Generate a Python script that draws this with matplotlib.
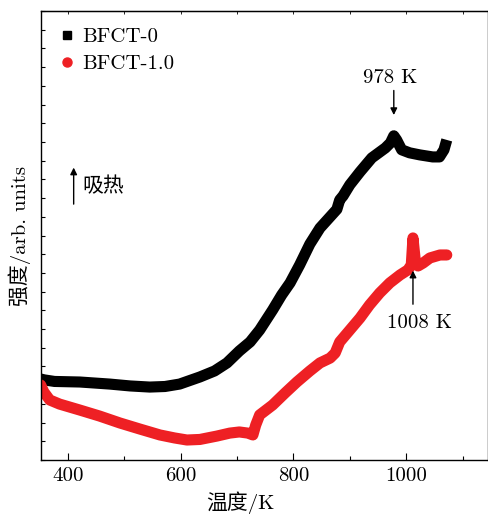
import matplotlib
matplotlib.use('Agg')
import matplotlib.pyplot as plt
from matplotlib.lines import Line2D
from matplotlib.ticker import MultipleLocator, NullFormatter

plt.rcParams['font.family'] = ['cmr10', 'Noto Sans CJK SC', 'DejaVu Sans']
plt.rcParams['axes.unicode_minus'] = False
plt.rcParams['font.size'] = 15

# BFCT-0 曲线 (温度 K, 强度 arb.)
t0 = [351.5, 358.6, 376, 421, 474, 510, 545, 572, 598, 634, 660, 682, 704, 723,
      740, 763, 779, 794, 811, 829, 847, 865, 877, 882, 888, 900, 918, 939, 963,
      972, 978, 983, 992, 1006, 1024, 1047, 1059, 1067, 1072]
y0 = [4.33, 4.28, 4.20, 4.17, 4.06, 3.96, 3.90, 3.93, 4.06, 4.44, 4.76, 5.19, 5.83, 6.31,
      6.95, 8.02, 8.82, 9.47, 10.43, 11.54, 12.40, 13.0, 13.40, 13.90, 14.12, 14.71, 15.40, 16.15, 16.68,
      16.95, 17.33, 17.11, 16.58, 16.42, 16.31, 16.20, 16.20, 16.58, 17.11]

# BFCT-1.0 曲线
t1 = [351.5, 357, 367.5, 385, 421, 456, 492, 527, 563, 589, 611, 634, 664, 687, 704,
      719, 728, 733, 740, 763, 785, 806, 829, 847, 865, 874, 882, 900, 918, 935,
      953, 971, 989, 1003, 1009, 1012, 1016, 1021, 1030, 1042, 1060, 1072]
y1 = [4.01, 3.64, 3.21, 2.99, 2.67, 2.35, 1.98, 1.66, 1.34, 1.18, 1.07, 1.10, 1.28, 1.44, 1.50,
      1.44, 1.34, 1.87, 2.41, 2.94, 3.58, 4.17, 4.76, 5.19, 5.45, 5.72, 6.31, 6.95, 7.59, 8.29,
      8.93, 9.47, 9.89, 10.16, 10.43, 11.87, 10.70, 10.37, 10.53, 10.80, 10.96, 10.96]

labels = ['BFCT-0', 'BFCT-1.0']
xticks = [400, 600, 800, 1000]

fig = plt.figure(figsize=(4.89, 5.14), dpi=100)
ax = fig.add_axes([0.0838, 0.105, 0.914, 0.8736])

ax.plot(t0, y0, color='black', lw=8, solid_capstyle='butt', solid_joinstyle='round')
ax.plot(t1, y1, color='#ee2024', lw=8, solid_capstyle='round', solid_joinstyle='round')

ax.set_xlim(352, 1145)
ax.set_ylim(0, 24)
ax.set_xticks(xticks)
ax.xaxis.set_minor_locator(MultipleLocator(100))
ax.yaxis.set_major_locator(MultipleLocator(1))
ax.yaxis.set_major_formatter(NullFormatter())
ax.tick_params(axis='x', which='major', direction='in', length=5, width=0.8, pad=5)
ax.tick_params(axis='x', which='minor', direction='in', length=3, width=0.8)
ax.tick_params(axis='y', which='major', direction='in', length=3, width=0.8)
for s in ax.spines.values():
    s.set_linewidth(1.0)

top = ax.secondary_xaxis('top')
top.xaxis.set_major_locator(MultipleLocator(100))
top.xaxis.set_major_formatter(NullFormatter())
top.tick_params(direction='in', length=2, width=0.6)

ax.set_xlabel('温度/K')
ax.xaxis.set_label_coords(0.445, -0.094)
ax.xaxis.label.set_va('center')
ax.set_ylabel('强度/arb. units')
ax.yaxis.set_label_coords(-0.047, 0.5)
ax.yaxis.label.set_va('center')

# 图例
handles = [Line2D([], [], ls='none', marker='s', color='black', markersize=5.5),
           Line2D([], [], ls='none', marker='o', color='#ee2024', markersize=6.5)]
ax.legend(handles, labels, loc='upper left', bbox_to_anchor=(0.008, 0.995), frameon=False,
          handlelength=0.8, handletextpad=0.3, labelspacing=0.38, borderaxespad=0.3)

# 标注
ax.annotate('', xy=(978, 18.29), xytext=(978, 19.9),
            arrowprops=dict(arrowstyle='-|>', color='black', lw=1, mutation_scale=10))
ax.text(972, 20.4, '978 K', ha='center', va='center')
ax.annotate('', xy=(1012, 10.27), xytext=(1012, 8.18),
            arrowprops=dict(arrowstyle='-|>', color='black', lw=1, mutation_scale=10))
ax.text(1024, 7.33, '1008 K', ha='center', va='center')
ax.annotate('', xy=(410, 15.78), xytext=(410, 13.53),
            arrowprops=dict(arrowstyle='-|>', color='black', lw=1, mutation_scale=10))
ax.text(425, 14.6, '吸热', ha='left', va='center')

fig.savefig('out.png', dpi=100)
